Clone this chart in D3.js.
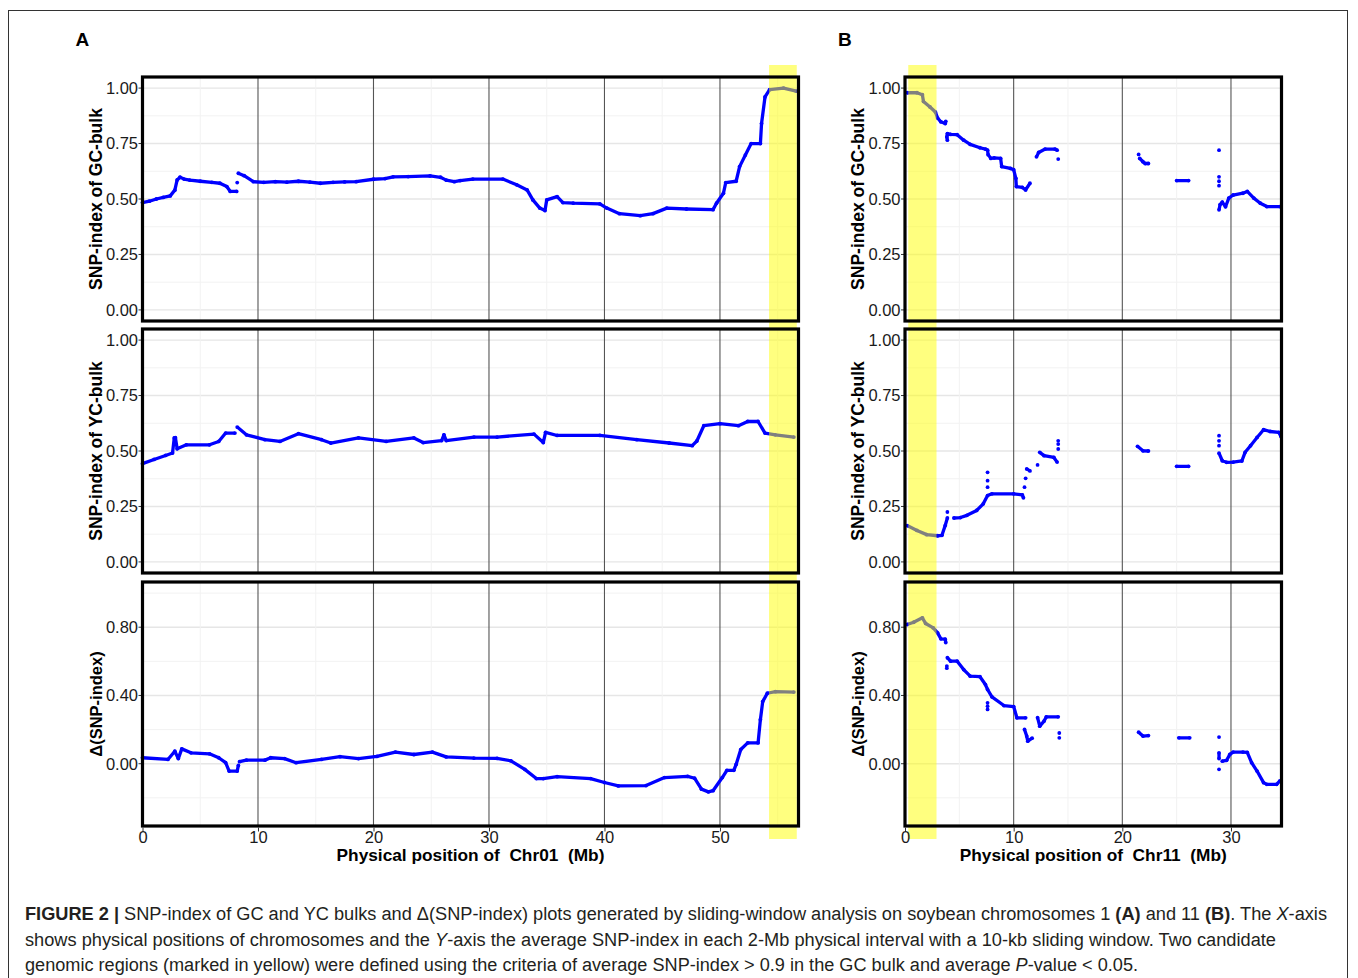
<!DOCTYPE html>
<html>
<head>
<meta charset="utf-8">
<script src="https://cdn.jsdelivr.net/npm/d3@7"></script>
<style>
  body { margin: 0; background: #fff; }
  svg { display: block; font-family: "Liberation Sans", Arial, sans-serif; }
</style>
</head>
<body>
<svg id="fig" width="1358" height="978"></svg>
<script>
// ---- data (Mb, SNP-index); null = gap in the track ----
const gcChr01Pos = [0,0.6,1.2,1.8,2.4,2.8,3.0,3.25,3.6,4.1,5.0,6.0,6.7,7.3,7.6,8.15,null,8.2,null,8.3,8.8,9.6,10.5,11.5,12.5,13.5,14.5,15.4,16.5,17.5,18.5,20.0,21.0,21.7,23.0,24.9,25.8,26.3,27.0,27.5,28.6,31.2,32.4,33.3,33.8,34.4,34.85,35.0,35.9,36.4,37.3,39.6,40.2,41.3,43.1,44.2,45.4,47.1,49.4,49.7,50.3,50.5,51.4,51.7,52.2,52.7,53.5,53.6,53.9,54.3,55.5,56.6];
const gcChr01 = [0.484,0.49,0.50,0.507,0.514,0.54,0.586,0.598,0.59,0.585,0.58,0.575,0.571,0.556,0.534,0.534,null,0.574,null,0.616,0.605,0.578,0.575,0.578,0.576,0.58,0.576,0.571,0.575,0.577,0.578,0.589,0.592,0.60,0.601,0.604,0.598,0.585,0.578,0.583,0.590,0.590,0.564,0.541,0.496,0.459,0.448,0.496,0.511,0.484,0.481,0.478,0.459,0.434,0.425,0.434,0.459,0.455,0.452,0.481,0.526,0.574,0.58,0.646,0.698,0.750,0.750,0.840,0.960,0.993,1.0,0.986];

const ycChr01Pos = [0,1.0,2.0,2.6,2.75,2.85,3.0,3.8,5.8,6.6,7.2,8.0,null,8.2,9.0,10.6,11.9,13.5,15.5,16.3,18.7,21.1,23.5,24.3,25.9,26.1,26.3,28.7,30.7,33.9,34.7,34.9,35.9,39.6,42.8,45.6,47.6,48.0,48.6,50.0,51.6,52.4,53.3,53.9,54.8,56.4];
const ycChr01 = [0.443,0.462,0.48,0.491,0.559,0.56,0.51,0.528,0.528,0.543,0.581,0.581,null,0.608,0.573,0.551,0.543,0.578,0.551,0.536,0.559,0.543,0.559,0.538,0.547,0.573,0.547,0.563,0.563,0.576,0.538,0.584,0.57,0.57,0.551,0.536,0.524,0.545,0.614,0.623,0.614,0.633,0.633,0.581,0.573,0.563];

const deltaChr01Pos = [0,2.2,2.8,3.1,3.4,4.2,5.8,6.6,7.2,7.5,8.2,8.3,null,8.4,9.0,10.6,11.1,12.3,13.3,15.5,17.1,18.7,20.3,21.9,23.5,25.1,26.3,28.7,30.7,31.9,33.1,34.1,34.7,35.9,38.8,40.0,41.2,43.6,45.2,47.2,47.8,48.4,49.0,49.4,50.2,50.6,51.2,51.4,51.8,52.4,53.3,53.5,53.7,54.1,54.8,56.4];
const deltaChr01 = [0.035,0.025,0.073,0.03,0.087,0.064,0.058,0.035,0.006,-0.043,-0.043,-0.01,null,0.012,0.021,0.021,0.035,0.03,0.006,0.025,0.041,0.03,0.043,0.068,0.054,0.068,0.04,0.033,0.031,0.017,-0.033,-0.087,-0.087,-0.076,-0.087,-0.11,-0.130,-0.128,-0.081,-0.074,-0.085,-0.149,-0.165,-0.158,-0.081,-0.039,-0.039,-0.004,0.083,0.122,0.122,0.258,0.364,0.413,0.422,0.42];

const gcChr11Pos = [0.2,1.1,1.6,1.7,2.3,2.8,3.0,3.3,3.7,3.75,null,3.9,3.85,3.9,4.2,4.8,5.4,6.0,6.9,7.4,7.6,7.65,7.9,8.2,8.8,8.9,9.7,10.0,10.2,10.25,10.8,11.1,11.5,null,12.1,12.3,12.9,13.8,14.0,null,14.1,null,21.5,null,21.6,21.9,22.1,22.4,null,25.0,26.1,null,28.9,null,28.9,null,28.9,null,28.9,null,28.9,29.0,29.2,29.5,29.8,30.2,31.1,31.5,32.1,32.7,33.3,34.5];
const gcChr11 = [0.979,0.979,0.970,0.940,0.915,0.892,0.865,0.848,0.840,0.85,null,0.765,0.78,0.795,0.791,0.79,0.765,0.746,0.731,0.725,0.72,0.70,0.683,0.685,0.683,0.646,0.638,0.632,0.593,0.556,0.552,0.541,0.571,null,0.69,0.71,0.725,0.725,0.72,null,0.68,null,0.701,null,0.683,0.668,0.66,0.66,null,0.583,0.583,null,0.72,null,0.60,null,0.58,null,0.56,null,0.451,0.475,0.486,0.465,0.504,0.518,0.526,0.534,0.504,0.481,0.466,0.466];

const ycChr11Pos = [0.2,1.1,2.0,3.0,3.4,3.7,3.9,null,3.9,null,4.5,5.1,5.7,6.6,7.2,7.6,8.0,10.0,10.8,10.9,null,7.6,null,7.6,null,7.6,null,11.0,null,11.1,null,11.2,11.5,null,12.2,null,12.4,12.8,13.7,14.0,null,14.1,null,14.1,null,14.1,null,21.4,21.9,22.4,null,25.0,26.1,null,28.9,null,28.9,null,28.9,null,28.9,29.2,29.6,30.2,31.0,31.3,31.8,32.4,33.0,33.6,34.4,34.6];
const ycChr11 = [0.164,0.142,0.123,0.118,0.12,0.164,0.198,null,0.225,null,0.198,0.2,0.21,0.232,0.262,0.299,0.307,0.307,0.302,0.289,null,0.337,null,0.366,null,0.404,null,0.337,null,0.377,null,0.419,0.41,null,0.437,null,0.494,0.479,0.471,0.45,null,0.546,null,0.531,null,0.509,null,0.521,0.501,0.5,null,0.431,0.431,null,0.569,null,0.546,null,0.524,null,0.49,0.456,0.449,0.45,0.455,0.494,0.524,0.561,0.596,0.588,0.584,0.565];

const deltaChr11Pos = [0.2,0.8,1.6,1.9,2.6,3.0,3.3,3.7,3.75,null,3.85,null,3.85,null,3.9,4.2,4.8,5.4,6.0,6.9,7.4,7.6,8.0,9.1,10.0,10.3,11.1,null,7.6,null,7.6,null,7.6,null,11.0,11.2,11.3,11.7,null,12.2,12.4,12.8,13.0,14.1,null,14.2,null,14.2,null,21.5,21.9,22.4,null,25.2,26.2,null,28.9,null,28.9,28.9,null,28.9,null,29.2,29.6,29.9,30.2,31.1,31.5,31.9,32.4,33.0,33.3,34.2,34.5];
const deltaChr11 = [0.816,0.829,0.855,0.822,0.796,0.767,0.732,0.73,0.71,null,0.572,null,0.56,null,0.621,0.601,0.601,0.552,0.513,0.51,0.464,0.435,0.392,0.341,0.335,0.269,0.269,null,0.357,null,0.337,null,0.318,null,0.201,0.162,0.132,0.15,null,0.27,0.22,0.25,0.274,0.275,null,0.18,null,0.152,null,0.185,0.162,0.165,null,0.152,0.152,null,0.156,null,0.064,0.03,null,-0.033,null,0.015,0.02,0.055,0.068,0.068,0.066,0.006,-0.043,-0.111,-0.121,-0.121,-0.10];

const snpTicks = [0, 0.25, 0.5, 0.75, 1];
const deltaTicks = [0, 0.4, 0.8];
const chr01Ticks = [0, 10, 20, 30, 40, 50];
const chr11Ticks = [0, 10, 20, 30];
const chr01Length = 56.8;
const chr11Length = 34.65;
const chr01Region = [54.25, 56.65];
const chr11Region = [0.3, 2.9];

// ---- layout ----
const svg = d3.select('#fig');
const rows = [[77, 321], [329, 573], [582, 826]];
const cols = [
  { letter: 'A', x0: 142.5, x1: 798.5, len: chr01Length, ticks: chr01Ticks, chr: 'Chr01', region: chr01Region,
    series: [[gcChr01Pos, gcChr01], [ycChr01Pos, ycChr01], [deltaChr01Pos, deltaChr01]] },
  { letter: 'B', x0: 905, x1: 1281.5, len: chr11Length, ticks: chr11Ticks, chr: 'Chr11', region: chr11Region,
    series: [[gcChr11Pos, gcChr11], [ycChr11Pos, ycChr11], [deltaChr11Pos, deltaChr11]] }
];
const yLabels = ['SNP-index of GC-bulk', 'SNP-index of YC-bulk', 'Δ(SNP-index)'];

// outer frame
svg.append('rect').attr('x', 8.5).attr('y', 10.5).attr('width', 1339).attr('height', 1000)
  .attr('fill', 'none').attr('stroke', '#333').attr('stroke-width', 1);

cols.forEach(col => {
  const x = d3.scaleLinear().domain([0, col.len]).range([col.x0, col.x1]);

  svg.append('text').attr('x', col.x0 - 67).attr('y', 46)
    .attr('font-size', 19).attr('font-weight', 'bold').text(col.letter);

  const layers = [];
  rows.forEach((r, i) => {
    const isDelta = i === 2;
    const dom = isDelta ? [-0.3, 1] : [0, 1];
    const pad = (dom[1] - dom[0]) * 0.05;
    const y = d3.scaleLinear().domain([dom[0] - pad, dom[1] + pad]).range([r[1], r[0]]);
    const majors = isDelta ? deltaTicks : snpTicks;
    const minors = isDelta ? [-0.2, 0.2, 0.6, 1.0] : [0.125, 0.375, 0.625, 0.875];
    const g = svg.append('g');

    // grid
    g.selectAll('.hmin').data(minors).enter().append('line')
      .attr('x1', col.x0).attr('x2', col.x1).attr('y1', d => y(d)).attr('y2', d => y(d))
      .attr('stroke', '#f2f2f2').attr('stroke-width', 1);
    g.selectAll('.hmaj').data(majors).enter().append('line')
      .attr('x1', col.x0).attr('x2', col.x1).attr('y1', d => y(d)).attr('y2', d => y(d))
      .attr('stroke', '#e6e6e6').attr('stroke-width', 1.4);
    const vmin = col.ticks.map(t => t + 5).filter(t => t < col.len);
    g.selectAll('.vmin').data(vmin).enter().append('line')
      .attr('x1', d => x(d)).attr('x2', d => x(d)).attr('y1', r[0]).attr('y2', r[1])
      .attr('stroke', '#f2f2f2').attr('stroke-width', 1);
    g.selectAll('.vmaj').data(col.ticks.filter(t => t > 0)).enter().append('line')
      .attr('x1', d => x(d)).attr('x2', d => x(d)).attr('y1', r[0]).attr('y2', r[1])
      .attr('stroke', '#555').attr('stroke-width', 1.1);

    // data track
    const [pos, vals] = col.series[i];
    const pts = pos.map((p, k) => ({ p, v: vals[k] }));
    const line = d3.line().defined(d => d.v != null).x(d => x(d.p)).y(d => y(d.v));
    g.append('path').datum(pts).attr('d', line).attr('fill', 'none')
      .attr('stroke', '#0000ff').attr('stroke-width', 3.3).attr('stroke-linejoin', 'round');
    g.selectAll('circle').data(pts.filter(d => d.v != null)).enter().append('circle')
      .attr('cx', d => x(d.p)).attr('cy', d => y(d.v)).attr('r', 1.9).attr('fill', '#0000ff');

    // y axis ticks and labels
    const fmt = d3.format('.2f');
    g.selectAll('.yt').data(majors).enter().append('line')
      .attr('x1', col.x0 - 4).attr('x2', col.x0).attr('y1', d => y(d)).attr('y2', d => y(d))
      .attr('stroke', '#333').attr('stroke-width', 1);
    g.selectAll('.yl').data(majors).enter().append('text')
      .attr('x', col.x0 - 4.5).attr('y', d => y(d)).attr('dy', '0.36em')
      .attr('text-anchor', 'end').attr('font-size', 16.5).attr('fill', '#1a1a1a')
      .text(d => fmt(d));
    g.append('text')
      .attr('transform', `translate(${col.x0 - 41},${(r[0] + r[1]) / 2}) rotate(-90)`)
      .attr('text-anchor', 'middle').attr('font-size', isDelta ? 16.5 : 17.5).attr('font-weight', 'bold')
      .text(yLabels[i]);

    layers.push({ g, r });
  });

  // candidate region (drawn over the tracks)
  svg.append('rect').attr('x', x(col.region[0])).attr('y', 65)
    .attr('width', x(col.region[1]) - x(col.region[0])).attr('height', 774)
    .attr('fill', '#ffff00').attr('opacity', 0.5);

  // panel borders on top
  layers.forEach(({ r }) => {
    svg.append('rect').attr('x', col.x0).attr('y', r[0])
      .attr('width', col.x1 - col.x0).attr('height', r[1] - r[0])
      .attr('fill', 'none').attr('stroke', '#000').attr('stroke-width', 3.2);
  });

  // x axis
  const xAxis = d3.axisBottom(x).tickValues(col.ticks).tickSize(4).tickFormat(d3.format('d'));
  const ax = svg.append('g').attr('transform', `translate(0,${rows[2][1] + 1.5})`).call(xAxis);
  ax.select('.domain').remove();
  ax.selectAll('line').attr('stroke', '#333');
  ax.selectAll('text').attr('font-size', 16.5).attr('fill', '#1a1a1a')
    .attr('font-family', '"Liberation Sans", Arial, sans-serif').attr('dy', '0.5em');
  svg.append('text').attr('x', (col.x0 + col.x1) / 2).attr('y', 861)
    .attr('text-anchor', 'middle').attr('font-size', 17.3).attr('font-weight', 'bold')
    .attr('xml:space', 'preserve')
    .text(`Physical position of  ${col.chr}  (Mb)`);
});

// caption
const capLines = [
  { w: 1302, parts: [['FIGURE 2 | ', 'b'], ['SNP-index of GC and YC bulks and Δ(SNP-index) plots generated by sliding-window analysis on soybean chromosomes 1 ', ''], ['(A)', 'b'], [' and 11 ', ''], ['(B)', 'b'], ['. The ', ''], ['X', 'i'], ['-axis', '']] },
  { w: 1251, parts: [['shows physical positions of chromosomes and the ', ''], ['Y', 'i'], ['-axis the average SNP-index in each 2-Mb physical interval with a 10-kb sliding window. Two candidate', '']] },
  { w: 1113, parts: [['genomic regions (marked in yellow) were defined using the criteria of average SNP-index > 0.9 in the GC bulk and average ', ''], ['P', 'i'], ['-value < 0.05.', '']] }
];
capLines.forEach((ln, i) => {
  const t = svg.append('text').attr('x', 25).attr('y', 920 + i * 25.5)
    .attr('font-size', 18).attr('fill', '#231f20')
    .attr('textLength', ln.w).attr('lengthAdjust', 'spacingAndGlyphs')
    .attr('xml:space', 'preserve');
  ln.parts.forEach(([s, st]) => {
    t.append('tspan').text(s)
      .attr('font-weight', st === 'b' ? 'bold' : 'normal')
      .attr('font-style', st === 'i' ? 'italic' : 'normal');
  });
});
</script>
</body>
</html>
